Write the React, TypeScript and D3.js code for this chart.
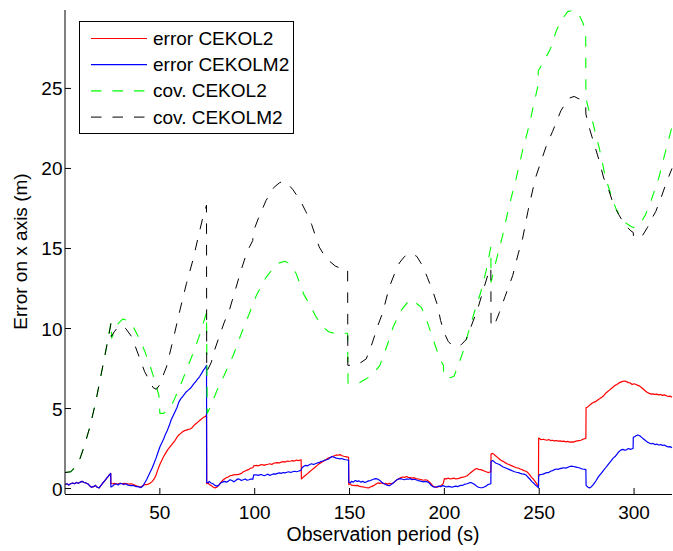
import React from "react";
import * as d3 from "d3";

type P = [number, number];

const xTicks = [50, 100, 150, 200, 250, 300];
const yTicks = [0, 5, 10, 15, 20, 25];
const legendLabels = ["error CEKOL2", "error CEKOLM2", "cov. CEKOL2", "cov. CEKOLM2"];
const xLabel = "Observation period (s)";
const yLabel = "Error on x axis (m)";

// common start of both error curves (0-24 s)
const errEarly: P[] = [
  [0, 0.25], [1, 0.3], [2, 0.22], [3, 0.3], [4, 0.35], [5, 0.3], [6, 0.38], [7, 0.33], [8, 0.4], [9, 0.45],
  [10, 0.38], [11, 0.35], [12, 0.3], [13, 0.18], [14, 0.08], [15, 0.12], [16, 0.2], [17, 0.08], [18, 0.04],
  [19, 0.2], [20, 0.35], [21, 0.5], [22, 0.65], [23, 0.8], [24.1, 0.95],
];

const errCEKOLM2: P[] = [
  [24.2, 0.1], [25, 0.15], [26, 0.25], [27, 0.3], [28, 0.22], [29, 0.32], [30, 0.3], [31, 0.25], [32, 0.3],
  [33, 0.22], [34, 0.2], [35, 0.18], [36, 0.2], [37, 0.14], [38, 0.12], [39, 0.1], [40, 0.06], [41, 0.15],
  [42, 0.35], [43, 0.55], [44, 0.8], [45, 1.05], [46, 1.3], [47, 1.6], [48, 1.9], [49, 2.25], [50, 2.6],
  [51, 2.85], [52, 3.1], [53, 3.4], [54, 3.65], [55, 3.95], [56, 4.3], [57, 4.55], [58, 4.8], [59, 5.05],
  [60, 5.4], [61, 5.6], [62, 5.75], [63, 5.9], [64, 6.05], [65, 6.15], [66, 6.25], [67, 6.4], [68, 6.55],
  [69, 6.7], [70, 6.85], [71, 7.0], [72, 7.2], [73, 7.4], [74, 7.55], [74.6, 7.7], [74.7, 0.4], [75.5, 0.35],
  [76, 0.45], [77, 0.35], [78, 0.3], [79, 0.2], [80, 0.15], [81, 0.2], [82, 0.35], [83, 0.4], [84, 0.45],
  [85, 0.4], [86, 0.45], [87, 0.55], [88, 0.5], [89, 0.42], [90, 0.5], [91, 0.6], [92, 0.58], [93, 0.5],
  [94, 0.55], [95, 0.6], [96, 0.52], [97, 0.55], [98, 0.6], [99, 0.58], [99.5, 0.85], [101, 0.85],
  [102, 0.82], [103, 0.88], [104, 0.85], [105, 0.8], [106, 0.85], [107, 0.9], [108, 0.82], [109, 0.88],
  [110, 0.92], [111, 0.9], [112, 0.95], [113, 0.98], [114, 0.95], [115, 1.0], [116, 0.98], [117, 1.02],
  [118, 1.05], [119, 1.0], [120, 1.05], [121, 1.08], [122, 1.05], [123, 1.08], [124.5, 1.15], [125, 1.3],
  [126, 1.4], [127, 1.45], [128, 1.42], [129, 1.5], [130, 1.55], [131, 1.5], [132, 1.55], [133, 1.6],
  [134, 1.62], [135, 1.7], [136, 1.72], [137, 1.78], [138, 1.8], [139, 1.85], [140, 1.95], [141, 2.0],
  [142, 1.95], [143, 1.9], [144, 1.88], [145, 1.85], [146, 1.88], [147, 1.82], [148, 1.8], [149.5, 1.78],
  [149.6, 0.4], [150.5, 0.35], [151, 0.45], [152, 0.4], [153, 0.5], [154, 0.45], [155, 0.48], [156, 0.4],
  [157, 0.45], [158, 0.38], [159, 0.42], [160, 0.48], [161, 0.5], [162, 0.55], [163, 0.6], [164, 0.62],
  [165, 0.58], [166, 0.5], [167, 0.4], [168, 0.32], [169, 0.25], [170, 0.2], [171, 0.18], [172, 0.25],
  [173, 0.35], [174, 0.45], [175, 0.55], [176, 0.6], [177, 0.62], [178, 0.58], [179, 0.55], [180, 0.6],
  [181, 0.58], [182, 0.62], [183, 0.55], [184, 0.58], [185, 0.55], [186, 0.5], [187, 0.48], [188, 0.45],
  [189, 0.42], [190, 0.45], [191, 0.42], [192, 0.35], [193, 0.2], [194, 0.12], [195, 0.08], [196, 0.1],
  [197, 0.15], [198, 0.12], [199, 0.18], [200, 0.15], [201, 0.1], [202, 0.14], [203, 0.12], [204, 0.08],
  [205, 0.12], [206, 0.15], [207, 0.12], [208, 0.18], [209, 0.2], [210, 0.22], [211, 0.28], [212, 0.3],
  [213, 0.35], [214, 0.38], [215, 0.32], [216, 0.25], [217, 0.15], [218, 0.08], [219, 0.05], [220, 0.06],
  [221, 0.1], [222, 0.15], [223, 0.25], [224.5, 0.3], [224.6, 1.7], [225.5, 1.75], [226, 1.7], [227, 1.6],
  [228, 1.55], [229, 1.5], [230, 1.42], [231, 1.35], [232, 1.3], [233, 1.25], [234, 1.2], [235, 1.15],
  [236, 1.1], [237, 1.05], [238, 1.02], [239, 1.0], [240, 0.95], [241, 0.92], [242, 0.9], [243, 0.85],
  [244, 0.72], [245, 0.6], [246, 0.45], [247, 0.35], [248, 0.22], [249, 0.12], [249.6, 0.05], [249.7, 0.75],
  [250, 0.85], [251, 0.88], [252, 0.9], [253, 0.95], [254, 1.0], [255, 1.0], [256, 1.08], [257, 1.12],
  [258, 1.18], [259, 1.22], [260, 1.2], [261, 1.25], [262, 1.28], [263, 1.3], [264, 1.28], [265, 1.32],
  [266, 1.38], [267, 1.4], [268, 1.38], [269, 1.35], [270, 1.32], [271, 1.3], [272, 1.25], [273, 1.22],
  [274, 1.2], [274.6, 1.18], [274.7, 0.2], [275.5, 0.1], [276.5, 0.04], [277.5, 0.12], [278.5, 0.25],
  [280, 0.5], [281, 0.7], [282, 0.85], [283, 1.0], [284, 1.15], [285, 1.3], [286, 1.45], [287, 1.6],
  [288, 1.75], [289, 1.9], [290, 2.0], [291, 2.15], [292, 2.3], [293, 2.4], [294, 2.45], [295, 2.4],
  [296, 2.42], [297, 2.5], [298, 2.45], [299.5, 2.5], [299.6, 3.2], [300.5, 3.25], [301, 3.3], [302, 3.35],
  [303, 3.3], [304, 3.2], [305, 3.1], [306, 3.0], [307, 2.9], [308, 2.85], [309, 2.8], [310, 2.82],
  [311, 2.75], [312, 2.78], [313, 2.72], [314, 2.75], [315, 2.7], [316, 2.72], [317, 2.65], [318, 2.6],
  [319, 2.62], [320, 2.55],
];

const errCEKOL2: P[] = [
  [24.2, 0.3], [25, 0.3], [26, 0.32], [27, 0.28], [28, 0.3], [29, 0.33], [30, 0.3], [31, 0.32], [32, 0.31],
  [33, 0.3], [34, 0.28], [35, 0.3], [36, 0.25], [37, 0.2], [38, 0.15], [39, 0.12], [40, 0.1], [41, 0.18],
  [42, 0.25], [43, 0.25], [44, 0.28], [45, 0.35], [46, 0.45], [47, 0.6], [48, 0.85], [49, 1.2], [50, 1.5],
  [51, 1.75], [52, 2.0], [53, 2.2], [54, 2.4], [55, 2.55], [56, 2.7], [57, 2.85], [58, 3.0], [59, 3.2],
  [60, 3.35], [61, 3.45], [62, 3.55], [63, 3.62], [64, 3.65], [65, 3.7], [66, 3.72], [67, 3.8], [68, 3.95],
  [69, 4.05], [70, 4.15], [71, 4.25], [72, 4.35], [73, 4.45], [74, 4.5], [74.6, 4.6], [74.7, 0.3],
  [75.5, 0.35], [76, 0.25], [77, 0.2], [78, 0.1], [79, 0.04], [80, 0.08], [81, 0.2], [82, 0.35], [83, 0.5],
  [84, 0.6], [85, 0.68], [86, 0.72], [87, 0.8], [88, 0.82], [89, 0.85], [90, 0.88], [91, 0.87], [92, 0.9],
  [93, 0.95], [94, 1.05], [95, 1.1], [96, 1.15], [97, 1.2], [98, 1.28], [99, 1.3], [99.5, 1.42], [101, 1.45],
  [102, 1.42], [103, 1.48], [104, 1.5], [105, 1.45], [106, 1.5], [107, 1.52], [108, 1.55], [109, 1.5],
  [110, 1.58], [111, 1.6], [112, 1.62], [113, 1.6], [114, 1.65], [115, 1.68], [116, 1.65], [117, 1.72],
  [118, 1.7], [119, 1.72], [120, 1.75], [121, 1.72], [122, 1.78], [123, 1.75], [124.5, 1.8], [124.6, 0.6],
  [125.5, 0.7], [126, 0.75], [127, 0.85], [128, 0.95], [129, 1.05], [130, 1.15], [131, 1.25], [132, 1.35],
  [133, 1.45], [134, 1.55], [135, 1.62], [136, 1.7], [137, 1.75], [138, 1.85], [139, 1.92], [140, 1.95],
  [141, 2.0], [142, 2.05], [143, 2.1], [144, 2.08], [145, 2.12], [146, 2.05], [147, 2.02], [148, 2.0],
  [149.5, 1.95], [149.6, 0.25], [150.5, 0.3], [151, 0.22], [152, 0.2], [153, 0.18], [154, 0.2], [155, 0.15],
  [156, 0.12], [157, 0.1], [158, 0.08], [159, 0.05], [160, 0.04], [161, 0.1], [162, 0.15], [163, 0.2],
  [164, 0.28], [165, 0.35], [166, 0.32], [167, 0.35], [168, 0.3], [169, 0.32], [170, 0.28], [171, 0.32],
  [172, 0.3], [173, 0.35], [174, 0.45], [175, 0.55], [176, 0.62], [177, 0.68], [178, 0.72], [179, 0.7],
  [180, 0.75], [181, 0.7], [182, 0.68], [183, 0.65], [184, 0.68], [185, 0.62], [186, 0.6], [187, 0.58],
  [188, 0.55], [189, 0.52], [190, 0.55], [191, 0.52], [192, 0.42], [193, 0.3], [194, 0.15], [195, 0.1],
  [196, 0.08], [197, 0.12], [198, 0.18], [199, 0.25], [199.5, 0.35], [200, 0.62], [201, 0.6], [202, 0.65],
  [203, 0.6], [204, 0.62], [205, 0.65], [206, 0.6], [207, 0.62], [208, 0.65], [209, 0.7], [210, 0.72],
  [211, 0.75], [212, 0.8], [213, 0.9], [214, 1.0], [215, 1.1], [216, 1.2], [217, 1.25], [218, 1.2],
  [219, 1.18], [220, 1.15], [221, 1.1], [222, 1.05], [223, 1.0], [224.5, 1.05], [224.6, 2.15], [225.5, 2.2],
  [226, 2.15], [227, 2.05], [228, 1.95], [229, 1.85], [230, 1.75], [231, 1.7], [232, 1.62], [233, 1.55],
  [234, 1.5], [235, 1.45], [236, 1.4], [237, 1.35], [238, 1.3], [239, 1.28], [240, 1.22], [241, 1.18],
  [242, 1.12], [243, 1.08], [244, 1.0], [245, 0.85], [246, 0.7], [247, 0.58], [248, 0.42], [249, 0.22],
  [249.6, 0.15], [249.7, 3.15], [250.5, 3.1], [251, 3.05], [252, 3.08], [253, 3.05], [254, 3.02], [255, 3.06],
  [256, 3.0], [257, 3.02], [258, 2.98], [259, 3.0], [260, 2.96], [261, 2.98], [262, 2.95], [263, 2.96],
  [264, 2.92], [265, 2.95], [266, 2.9], [267, 2.92], [268, 2.9], [269, 2.95], [270, 2.98], [271, 3.0],
  [272, 3.02], [273, 3.08], [274, 3.12], [274.6, 3.15], [274.7, 5.05], [275.5, 5.1], [276, 5.15], [277, 5.25],
  [278, 5.35], [279, 5.4], [280, 5.45], [281, 5.55], [282, 5.62], [283, 5.7], [284, 5.8], [285, 5.95],
  [286, 6.05], [287, 6.15], [288, 6.25], [289, 6.35], [290, 6.45], [291, 6.5], [292, 6.6], [293, 6.65],
  [294, 6.7], [295, 6.72], [296, 6.68], [297, 6.62], [298, 6.6], [299, 6.5], [300, 6.55], [301, 6.5],
  [302, 6.45], [303, 6.4], [304, 6.3], [305, 6.2], [306, 6.1], [307, 6.0], [308, 5.95], [309, 5.9],
  [310, 5.92], [311, 5.88], [312, 5.9], [313, 5.85], [314, 5.88], [315, 5.82], [316, 5.85], [317, 5.8],
  [318, 5.75], [319, 5.78], [320, 5.7],
];

const covCEKOL2: P[] = [
  [0, 1.0], [3, 1.05], [6, 1.4], [8, 1.9], [10, 2.6], [13, 3.8], [16, 5.3], [18.5, 6.8], [21, 8.3],
  [23, 9.6], [24.3, 10.4], [24.6, 9.4], [26, 9.8], [28, 10.3], [30.5, 10.6], [33, 10.5], [36, 10.1],
  [39, 9.4], [42, 8.6], [45, 7.6], [47.5, 6.7], [49.5, 5.8], [50, 4.7], [52, 4.7], [54, 4.9], [57, 5.4],
  [60, 6.2], [64, 7.4], [68, 8.6], [71, 9.6], [74.6, 11.0], [75, 4.7], [77, 5.2], [80, 6.1], [84, 7.1],
  [88.6, 8.3], [93, 9.7], [97.4, 11.0], [101, 12.1], [106, 13.2], [110, 13.8], [113, 14.1], [116, 14.2],
  [119, 14.0], [122, 13.4], [123.5, 12.9], [126, 12.1], [129, 11.5], [132, 10.8], [136, 10.1], [139, 9.8],
  [142, 9.7], [149, 9.7], [149.2, 6.6], [152, 6.5], [155, 6.6], [158, 6.8], [162, 7.1], [166, 7.7],
  [170, 9.0], [173, 10.1], [177, 11.1], [181, 11.7], [183, 11.8], [185, 11.6], [188, 11.3], [191, 10.4],
  [195, 9.0], [198, 8.0], [199.5, 7.7], [199.6, 7.0], [202, 6.9], [205, 7.0], [207, 7.6], [210, 8.6],
  [213, 9.9], [216, 11.1], [219, 12.2], [222, 13.6], [224.5, 15.1], [224.6, 12.9], [227, 14.1],
  [230.7, 15.8], [234, 17.6], [237.7, 19.3], [241, 21.0], [244.7, 22.7], [249.4, 25.2], [249.5, 26.1],
  [252, 26.6], [256, 27.5], [259, 28.6], [261.4, 29.2], [265, 29.8], [268.4, 29.9], [271, 29.6],
  [273, 29.1], [274.5, 28.6], [274.6, 24.4], [276, 23.7], [278, 23.0], [281.6, 21.3], [285, 19.4],
  [288, 18.3], [290.4, 17.5], [293, 16.9], [295.6, 16.6], [298, 16.4], [300, 16.3], [302, 16.4],
  [304, 16.7], [306, 17.1], [309, 18.0], [313, 19.4], [316, 20.8], [320, 22.6],
];

const covCEKOLM2: P[] = [
  [0, 1.0], [3, 1.05], [6, 1.4], [8, 1.9], [10, 2.6], [13, 3.8], [16, 5.3], [18.5, 6.8], [21, 8.3],
  [23, 9.5], [24.2, 10.3], [24.4, 9.5], [26, 9.8], [28, 10.1], [30, 10.2], [32, 10.0], [35.1, 9.5],
  [37, 8.9], [39.5, 8.1], [42, 7.3], [44.7, 6.7], [46.5, 6.3], [48.2, 6.2], [50, 6.5], [51.5, 7.0],
  [53.5, 7.6], [57, 9.3], [60.5, 11.1], [64, 12.8], [67.5, 14.3], [70, 15.6], [72.8, 17.0], [74.6, 17.7],
  [74.7, 7.3], [77, 7.85], [79, 8.7], [81.6, 9.6], [84, 10.4], [86.8, 11.2], [90, 12.5], [93, 13.7],
  [96, 14.8], [99, 15.5], [99.1, 16.0], [102, 16.9], [106, 18.0], [110, 18.8], [113, 19.1], [115, 19.2],
  [117, 19.1], [120, 18.7], [124, 18.0], [127, 17.3], [130, 16.5], [134, 15.1], [137, 14.5], [139.5, 14.2],
  [142.5, 13.9], [145.6, 13.75], [149, 13.7], [149.1, 7.7], [152, 7.7], [155, 7.8], [158.8, 8.1],
  [162, 9.1], [165, 10.2], [167.5, 11.0], [171, 12.6], [174, 13.5], [176.3, 14.1], [179, 14.5],
  [182.5, 14.7], [185.5, 14.5], [188.6, 13.9], [191, 13.2], [194, 12.3], [196.5, 11.4], [198, 10.5],
  [200, 9.7], [202, 9.2], [204.4, 8.9], [207, 8.9], [209, 9.0], [211.4, 9.3], [214, 10.1], [217.5, 11.2],
  [220, 12.2], [222.8, 13.3], [224.5, 13.8], [224.6, 10.1], [227, 10.4], [229, 11.0], [232, 12.0],
  [236, 13.3], [239, 14.7], [241.2, 15.6], [244, 17.3], [248, 19.4], [251.7, 20.7], [254, 21.5],
  [257, 22.3], [261.4, 23.6], [264, 24.1], [266, 24.4], [268.4, 24.5], [270, 24.4], [272, 24.3],
  [274.5, 23.9], [274.6, 23.4], [276, 22.7], [278, 21.9], [281.6, 20.5], [284, 19.4], [286.8, 18.6],
  [289, 17.8], [292, 17.1], [295, 16.5], [298.3, 16.1], [299.6, 16.0], [299.7, 15.7], [302, 15.7],
  [304.4, 15.8], [307, 16.3], [309, 16.8], [311.4, 17.3], [314, 18.1], [317, 19.1], [320, 20.0],
];

const W = 673;
const H = 551;
const left = 65;
const right = 672;
const top = 10;
const bottom = 494;
const font = '"Liberation Sans", Arial, Helvetica, sans-serif';

export default function App() {
  const x = d3.scaleLinear().domain([0, 320]).range([left, right]);
  const y = d3.scaleLinear().domain([-0.34, 29.9]).range([bottom, top]);
  const line = d3
    .line<P>()
    .x((d) => x(d[0]))
    .y((d) => y(d[1]));

  const series = [
    { data: errEarly.concat(errCEKOL2), color: "#ff0000", dash: undefined as string | undefined, w: 1.2 },
    { data: errEarly.concat(errCEKOLM2), color: "#0000ff", dash: undefined as string | undefined, w: 1.2 },
    { data: covCEKOL2, color: "#00ff00", dash: "10.5,11", w: 1.1 },
    { data: covCEKOLM2, color: "#000000", dash: "10.5,11", w: 1 },
  ];

  const legX = 79.5;
  const legY = 21.5;
  const legW = 214;
  const legH = 112;
  const rowH = 26.2;

  return (
    <svg
      width={W}
      height={H}
      style={{ position: "absolute", left: 0, top: 0, background: "#fff" }}
      fontFamily={font}
    >
      <rect x={0} y={0} width={W} height={H} fill="#fff" />
      <defs>
        <clipPath id="plotclip">
          <rect x={left} y={top - 2} width={right - left + 2} height={bottom - top + 2} />
        </clipPath>
      </defs>
      <g clipPath="url(#plotclip)">
        {series.map((s, i) => (
          <path
            key={i}
            d={line(s.data) || ""}
            fill="none"
            stroke={s.color}
            strokeWidth={s.w}
            strokeDasharray={s.dash}
            strokeLinejoin="round"
          />
        ))}
      </g>
      {/* axes */}
      <line x1={left} x2={left} y1={top} y2={bottom} stroke="#000" strokeWidth={1} />
      <line x1={left} x2={right} y1={bottom + 0.5} y2={bottom + 0.5} stroke="#000" strokeWidth={1} />
      {xTicks.map((t) => (
        <g key={"x" + t}>
          <line x1={x(t)} x2={x(t)} y1={bottom} y2={bottom - 6} stroke="#000" strokeWidth={1} />
          <text x={x(t)} y={518.5} textAnchor="middle" fontSize={19} fill="#000">
            {t}
          </text>
        </g>
      ))}
      {yTicks.map((t) => (
        <g key={"y" + t}>
          <line x1={left} x2={left + 6} y1={y(t)} y2={y(t)} stroke="#000" strokeWidth={1} />
          <text x={62.5} y={y(t) + 7} textAnchor="end" fontSize={19} fill="#000">
            {t}
          </text>
        </g>
      ))}
      <text x={383} y={541} textAnchor="middle" fontSize={19.5} fill="#000">
        {xLabel}
      </text>
      <text
        transform={`translate(27,251.5) rotate(-90)`}
        textAnchor="middle"
        fontSize={19}
        fill="#000"
      >
        {yLabel}
      </text>
      {/* legend */}
      <rect x={legX} y={legY} width={legW} height={legH} fill="#fff" stroke="#000" strokeWidth={1} />
      {legendLabels.map((lab, i) => {
        const cy = 38.5 + i * rowH;
        const s = series[i];
        return (
          <g key={lab}>
            <line
              x1={91}
              x2={147}
              y1={cy}
              y2={cy}
              stroke={s.color}
              strokeWidth={s.w}
              strokeDasharray={s.dash}
            />
            <text x={153} y={cy + 6.5} fontSize={19} fill="#000">
              {lab}
            </text>
          </g>
        );
      })}
    </svg>
  );
}
